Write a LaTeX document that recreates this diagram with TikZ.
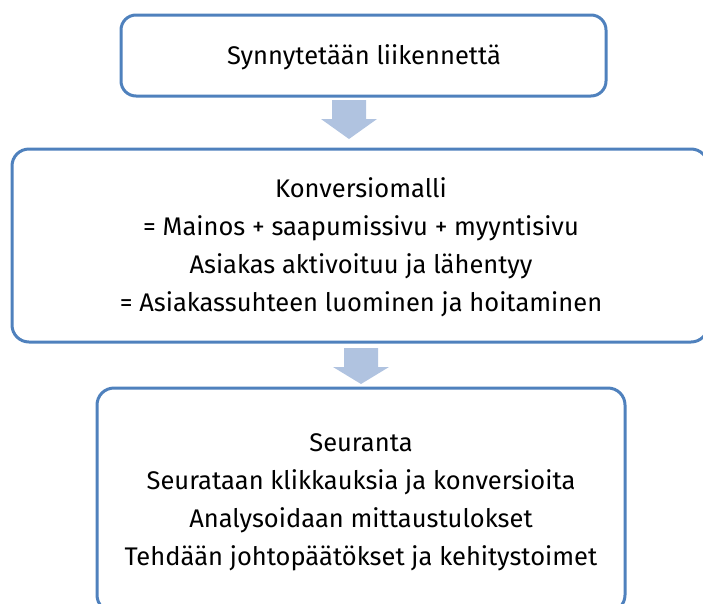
\documentclass[tikz,border=0pt]{standalone}
\usepackage{fontspec}
\setmainfont{Fira Sans}
\definecolor{boxline}{HTML}{4F81BD}
\definecolor{arrowfill}{HTML}{B0C3E0}
\begin{document}
\begin{tikzpicture}[x=1pt,y=-1pt,
  flowbox/.style={draw=boxline, line width=3pt, rounded corners=15pt, fill=white, rectangle, inner sep=0pt},
  blockarrow/.style={fill=arrowfill, draw=none},
  linetext/.style={anchor=base, inner sep=0pt, font=\fontsize{25.5}{30}\selectfont, text=black}]
\useasboundingbox (0,0) rectangle (703,603);
\clip (0,0) rectangle (703,603);
% boxes
\node[flowbox, minimum width=485pt, minimum height=81pt] (box1) at (363.5,55.5) {};
\node[flowbox, rounded corners=17pt, minimum width=696pt, minimum height=193pt] (box2) at (360,245.5) {};
\node[flowbox, rounded corners=17pt, minimum width=528pt, minimum height=224pt] (box3) at (361,500) {};
% block arrows
\fill[blockarrow] (332,100) -- (366,100) -- (366,119) -- (377,119) -- (349,139) -- (321,119) -- (332,119) -- cycle;
\fill[blockarrow] (344,348) -- (378,348) -- (378,367) -- (389,367) -- (361,384) -- (333,367) -- (344,367) -- cycle;
% texts
\node[linetext] (t1) at (364,64) {Synnytetään liikennettä};
\node[linetext] (t2a) at (361,197) {Konversiomalli};
\node[linetext] (t2b) at (361,235) {= Mainos + saapumissivu + myyntisivu};
\node[linetext] (t2c) at (361,273) {Asiakas aktivoituu ja lähentyy};
\node[linetext] (t2d) at (361,311) {= Asiakassuhteen luominen ja hoitaminen};
\node[linetext] (t3a) at (361,451) {Seuranta};
\node[linetext] (t3b) at (361,489) {Seurataan klikkauksia ja konversioita};
\node[linetext] (t3c) at (361,527) {Analysoidaan mittaustulokset};
\node[linetext] (t3d) at (361,565) {Tehdään johtopäätökset ja kehitystoimet};
\end{tikzpicture}
\end{document}
